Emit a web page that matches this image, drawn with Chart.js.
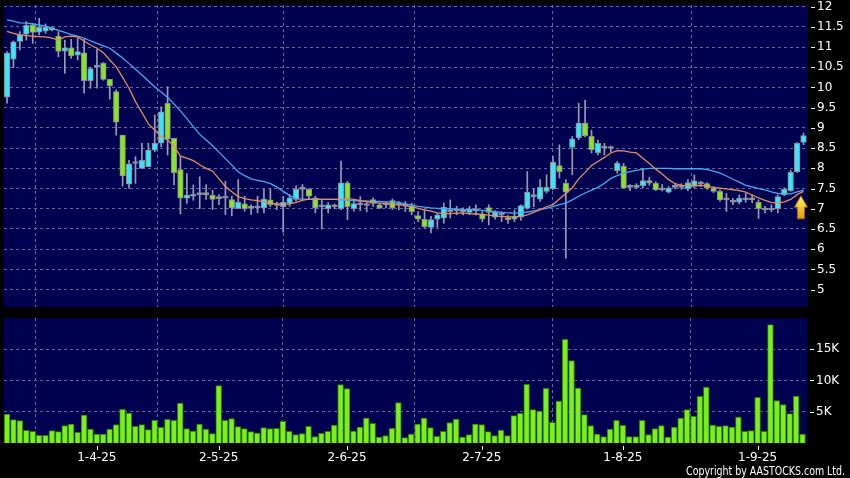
<!DOCTYPE html>
<html>
<head>
<meta charset="utf-8">
<script src="https://cdn.jsdelivr.net/npm/chart.js@4.4.1/dist/chart.umd.min.js"></script>
<style>
  html, body { margin: 0; padding: 0; background: #000; }
  #wrap { position: relative; width: 850px; height: 478px; overflow: hidden; background: #000; }
  #main { position: absolute; left: 0; top: 0; }
  #vol { position: absolute; left: 0; top: 307px; }
  #copy { position: absolute; right: 5px; top: 464px; color: #fff; font: 12px "DejaVu Sans", sans-serif;
          white-space: nowrap; transform-origin: right top; line-height: 14px; }
</style>
</head>
<body>
<div id="wrap">
  <canvas id="main" width="850" height="307"></canvas>
  <canvas id="vol" width="850" height="171"></canvas>
  <div id="copy">Copyright by AASTOCKS.com Ltd.</div>
</div>
<script>
// daily candles, 12 Mar 2025 .. 10 Sep 2025 (125 sessions)
const opens = [9.76,10.70,11.14,11.32,11.54,11.37,11.39,11.48,11.27,10.90,
  10.98,10.80,10.86,10.17,10.50,10.60,10.20,9.90,8.82,7.61,
  8.12,8.00,8.04,8.45,8.62,9.61,8.74,7.97,7.26,7.31,
  7.35,7.35,7.33,7.25,7.26,7.23,7.00,7.12,7.01,7.02,
  7.02,7.22,7.08,7.05,7.13,7.23,7.48,7.48,7.27,7.05,
  7.00,7.07,7.00,7.64,7.00,7.10,7.08,7.23,7.10,7.10,
  7.20,7.09,7.11,7.07,6.83,6.74,6.54,6.74,6.77,6.93,
  7.00,6.93,6.91,6.95,6.87,7.03,6.79,6.85,6.77,6.74,
  6.79,7.01,7.30,7.24,7.43,7.49,8.07,7.63,8.52,8.75,
  9.12,8.79,8.39,8.50,8.50,7.94,8.05,7.53,7.53,7.57,
  7.70,7.63,7.47,7.41,7.53,7.53,7.49,7.55,7.61,7.62,
  7.51,7.43,7.22,7.16,7.16,7.22,7.26,7.16,6.97,6.97,
  7.00,7.34,7.45,7.92,8.64];
const highs = [10.89,11.15,11.38,11.63,11.59,11.71,11.57,11.50,11.38,11.17,
  11.19,11.22,11.19,10.50,10.94,10.62,10.20,9.94,8.82,8.20,
  8.29,8.62,8.62,9.32,9.52,10.02,8.74,8.29,7.87,7.59,
  7.79,7.60,7.46,7.35,7.68,7.31,7.72,7.31,7.10,7.31,
  7.48,7.50,7.16,7.31,7.35,7.57,7.60,7.50,7.31,7.23,
  7.15,7.12,8.18,7.68,7.23,7.30,7.18,7.27,7.14,7.15,
  7.24,7.18,7.18,7.14,6.93,6.97,6.81,6.89,7.14,7.22,
  7.06,7.02,7.06,7.10,6.93,7.10,6.95,6.93,6.83,6.97,
  7.10,7.92,7.50,7.72,7.84,8.29,8.58,7.72,8.79,9.61,
  9.69,8.94,8.70,8.62,8.55,8.17,8.12,7.60,7.62,8.00,
  7.78,7.67,7.60,7.55,7.60,7.62,7.72,7.84,7.68,7.65,
  7.55,7.47,7.38,7.26,7.34,7.38,7.35,7.22,7.06,7.10,
  7.34,7.52,7.95,8.64,8.87];
const lows = [9.61,10.49,10.93,11.17,11.09,11.30,11.34,11.40,10.76,10.35,
  10.72,10.68,9.86,9.98,9.98,10.18,9.71,8.82,7.56,7.50,
  7.63,8.00,8.04,8.41,8.53,8.33,7.59,6.87,7.13,7.21,
  7.00,7.23,6.98,7.10,6.86,6.82,7.00,6.94,6.86,6.90,
  6.90,7.05,6.98,6.42,7.06,7.19,7.23,7.23,6.90,6.50,
  6.90,7.00,6.98,6.73,6.94,6.95,6.92,7.06,7.00,7.02,
  6.98,6.97,6.93,6.85,6.68,6.52,6.40,6.54,6.64,6.77,
  6.85,6.85,6.85,6.85,6.68,6.60,6.74,6.68,6.64,6.68,
  6.71,6.99,7.05,7.18,7.39,7.47,7.76,5.78,7.84,8.71,
  8.78,8.38,8.33,8.33,8.40,7.88,7.51,7.45,7.50,7.52,
  7.58,7.45,7.44,7.39,7.49,7.48,7.45,7.52,7.55,7.48,
  7.40,7.18,6.93,7.10,7.12,7.16,7.15,6.76,6.90,6.92,
  6.90,7.32,7.43,7.90,8.58];
const closes = [10.85,11.13,11.31,11.54,11.36,11.49,11.49,11.42,10.89,10.98,
  10.78,10.89,10.17,10.47,10.52,10.20,10.04,9.14,7.81,8.11,
  8.13,8.20,8.45,8.62,9.40,8.72,7.89,7.26,7.34,7.35,
  7.35,7.36,7.23,7.26,7.27,7.02,7.16,7.00,7.02,7.03,
  7.24,7.10,7.09,7.16,7.27,7.48,7.49,7.31,7.02,7.06,
  7.10,7.05,7.64,7.05,7.13,7.11,7.09,7.13,7.02,7.11,
  7.02,7.09,7.07,6.93,6.74,6.56,6.73,6.85,7.04,6.93,
  6.95,6.93,7.00,6.95,6.74,6.91,6.92,6.85,6.73,6.81,
  7.08,7.41,7.30,7.53,7.53,8.15,7.92,7.41,8.73,9.12,
  8.81,8.46,8.62,8.50,8.49,8.13,7.51,7.53,7.57,7.70,
  7.63,7.47,7.47,7.51,7.53,7.53,7.65,7.69,7.61,7.51,
  7.43,7.22,7.22,7.16,7.26,7.22,7.22,7.00,6.97,6.97,
  7.30,7.48,7.90,8.62,8.81];
const volumes = [4630,3730,3570,2020,1860,1220,1220,1970,1810,2770,
  3040,1700,4470,2240,1440,1440,2240,2930,5380,4790,
  2660,2930,2130,3620,2500,3780,3620,6390,2290,1920,
  3040,2240,1490,9160,3620,3890,2610,2290,1810,1600,
  2450,2290,2340,3460,1860,1330,1490,2660,1010,1540,
  1860,2880,9320,8680,1920,2560,3990,3140,960,1170,
  2340,6440,850,1440,3040,3990,2450,1060,1860,3250,
  3830,960,1330,3040,2930,1810,1170,2080,1170,4370,
  4740,9370,5320,5110,8730,3300,6710,16560,13150,8790,
  4530,2800,1440,1010,2240,3620,2820,1010,1010,3620,
  1330,2290,2770,960,2560,3990,5320,4260,7450,8950,
  2880,2660,2770,2560,4150,1860,1970,7300,1860,18900,
  6760,6120,4690,7510,1440];
// short (orange) and long (blue) moving averages as drawn on the chart
const maShort = [11.39,11.34,11.30,11.28,11.27,11.26,11.25,11.22,11.17,11.25,
  11.27,11.25,11.15,11.05,10.97,10.86,10.68,10.51,10.25,9.98,
  9.65,9.38,9.10,8.95,8.78,8.70,8.55,8.30,8.25,8.19,
  8.09,8.00,7.93,7.74,7.55,7.42,7.30,7.25,7.22,7.20,
  7.17,7.14,7.12,7.10,7.12,7.16,7.21,7.24,7.24,7.23,
  7.23,7.23,7.24,7.25,7.23,7.20,7.18,7.16,7.14,7.13,
  7.11,7.10,7.08,7.05,7.01,6.97,6.94,6.90,6.88,6.88,
  6.89,6.89,6.88,6.87,6.86,6.84,6.82,6.81,6.80,6.80,
  6.81,6.85,6.91,6.98,7.05,7.10,7.24,7.38,7.52,7.74,
  7.90,8.07,8.17,8.27,8.38,8.44,8.43,8.40,8.38,8.25,
  8.12,7.98,7.86,7.72,7.62,7.58,7.57,7.57,7.58,7.56,
  7.53,7.51,7.49,7.47,7.45,7.41,7.34,7.27,7.21,7.16,
  7.14,7.17,7.23,7.35,7.43];
const maLong = [11.67,11.64,11.60,11.59,11.57,11.55,11.52,11.47,11.41,11.36,
  11.31,11.27,11.22,11.15,11.09,11.03,10.97,10.85,10.73,10.59,
  10.45,10.31,10.16,10.01,9.89,9.75,9.59,9.42,9.23,9.03,
  8.84,8.70,8.56,8.40,8.24,8.08,7.91,7.82,7.74,7.70,
  7.67,7.62,7.54,7.43,7.33,7.25,7.24,7.23,7.23,7.23,
  7.23,7.23,7.22,7.21,7.20,7.19,7.19,7.18,7.18,7.17,
  7.17,7.16,7.12,7.09,7.06,7.04,7.02,7.01,7.00,7.00,
  6.99,6.98,6.97,6.97,6.96,6.94,6.93,6.91,6.90,6.89,
  6.90,6.92,6.95,6.98,7.01,7.05,7.10,7.14,7.22,7.31,
  7.39,7.46,7.53,7.63,7.75,7.82,7.88,7.92,7.95,7.98,
  8.00,8.00,8.00,8.00,7.99,7.99,7.99,7.99,7.99,7.97,
  7.93,7.88,7.81,7.73,7.66,7.58,7.54,7.50,7.47,7.42,
  7.38,7.37,7.37,7.42,7.46];

const tickIdx = [14, 33, 53, 74, 96, 117];
const tickLabels = ['1-4-25', '2-5-25', '2-6-25', '2-7-25', '1-8-25', '1-9-25'];
const priceTicks = [5, 5.5, 6, 6.5, 7, 7.5, 8, 8.5, 9, 9.5, 10, 10.5, 11, 11.5, 12];
const volTicks = [5000, 10000, 15000];
const volTickLabels = ['5K', '10K', '15K'];

// the yellow arrow marker next to the last candle
const arrowAt = { x: 123.6, tip: 7.32, neck: 7.04, foot: 6.75 };

const NAVY = '#000050';
const GRID = '#66669c';
const UP = '#3ae6f4';
const DOWN = '#88e424';
const FLAT = '#a2a2b2';
const EDGE = '#8c8c9c';
const FONT = { family: 'DejaVu Sans', size: 12 };

const idx = opens.map((_, i) => i);

function candleColour(i) {
  const d = closes[i] - opens[i];
  if (Math.abs(d) < 0.015) return FLAT;
  return d > 0 ? UP : DOWN;
}

// navy fill behind the plot area
const plotBg = {
  id: 'plotBg',
  beforeDraw(chart) {
    const a = chart.chartArea, ctx = chart.ctx;
    ctx.save();
    ctx.fillStyle = NAVY;
    ctx.fillRect(a.left, a.top, a.right - a.left, a.bottom - a.top);
    ctx.restore();
  }
};

// little white dashes in front of the right axis labels
const yMarks = {
  id: 'yMarks',
  afterDraw(chart) {
    const s = chart.scales.y, ctx = chart.ctx;
    ctx.save();
    ctx.strokeStyle = '#fff';
    ctx.lineWidth = 1;
    ctx.beginPath();
    s.ticks.forEach(t => {
      const y = Math.round(s.getPixelForValue(t.value)) + 0.5;
      ctx.moveTo(chart.chartArea.right + 3, y);
      ctx.lineTo(chart.chartArea.right + 7, y);
    });
    ctx.stroke();
    ctx.restore();
  }
};

// small tick marks under the volume panel
const xMarks = {
  id: 'xMarks',
  afterDraw(chart) {
    const s = chart.scales.x, ctx = chart.ctx, b = chart.chartArea.bottom;
    ctx.save();
    ctx.strokeStyle = '#fff';
    ctx.lineWidth = 1;
    ctx.beginPath();
    s.ticks.forEach(t => {
      const x = Math.round(s.getPixelForValue(t.value)) + 0.5;
      ctx.moveTo(x, b + 3);
      ctx.lineTo(x, b + 7);
    });
    ctx.stroke();
    ctx.restore();
  }
};

const arrow = {
  id: 'arrow',
  afterDatasetsDraw(chart) {
    const xs = chart.scales.x, ys = chart.scales.y, ctx = chart.ctx;
    const cx = xs.getPixelForValue(arrowAt.x);
    const yt = ys.getPixelForValue(arrowAt.tip);
    const yn = ys.getPixelForValue(arrowAt.neck);
    const yf = ys.getPixelForValue(arrowAt.foot);
    const hw = 6.5, sw = 3.5;
    const g = ctx.createLinearGradient(0, yt, 0, yf);
    g.addColorStop(0, '#fff46a');
    g.addColorStop(1, '#e29a00');
    ctx.save();
    ctx.beginPath();
    ctx.moveTo(cx, yt);
    ctx.lineTo(cx + hw, yn);
    ctx.lineTo(cx + sw, yn);
    ctx.lineTo(cx + sw, yf);
    ctx.lineTo(cx - sw, yf);
    ctx.lineTo(cx - sw, yn);
    ctx.lineTo(cx - hw, yn);
    ctx.closePath();
    ctx.fillStyle = g;
    ctx.fill();
    ctx.strokeStyle = '#a86a00';
    ctx.lineWidth = 0.8;
    ctx.stroke();
    ctx.restore();
  }
};

function xAxis(showLabels) {
  return {
    type: 'linear',
    min: -0.47,
    max: 124.7,
    offset: false,
    afterBuildTicks: s => { s.ticks = tickIdx.map(v => ({ value: v })); },
    afterFit: s => {
      s.height = showLabels ? 35 : 0;
      s.paddingLeft = 0;
      s.paddingRight = 0;
    },
    grid: { color: GRID, drawTicks: false, lineWidth: 1 },
    border: { display: false, dash: [3, 3] },
    ticks: {
      display: showLabels,
      color: '#fff',
      font: FONT,
      padding: 8,
      maxRotation: 0,
      autoSkip: false,
      callback: (v, i) => tickLabels[i]
    }
  };
}

function yAxis(min, max, ticks, labels, width) {
  return {
    position: 'right',
    min: min,
    max: max,
    afterBuildTicks: s => { s.ticks = ticks.map(v => ({ value: v })); },
    afterFit: s => {
      s.width = width;
      s.paddingTop = 0;
      s.paddingBottom = 0;
    },
    grid: { color: GRID, drawTicks: false },
    border: { display: false, dash: [3, 3] },
    ticks: { color: '#fff', font: FONT, padding: 9, callback: (v, i) => labels[i] }
  };
}

const common = {
  responsive: false,
  animation: false,
  events: [],
  plugins: { legend: { display: false }, tooltip: { enabled: false } }
};

new Chart(document.getElementById('main'), {
  type: 'bar',
  data: {
    datasets: [
      {
        type: 'line',
        data: maShort.map((v, i) => ({ x: i, y: v })),
        borderColor: '#e48e5c',
        borderWidth: 1.3,
        pointRadius: 0,
        tension: 0,
        order: 0
      },
      {
        type: 'line',
        data: maLong.map((v, i) => ({ x: i, y: v })),
        borderColor: '#44aaf0',
        borderWidth: 1.3,
        pointRadius: 0,
        tension: 0,
        order: 0
      },
      {
        data: idx.map(i => ({ x: i, y: [opens[i], closes[i]] })),
        backgroundColor: idx.map(candleColour),
        borderColor: EDGE,
        borderWidth: 1,
        borderSkipped: false,
        barThickness: 5.6,
        minBarLength: 2,
        grouped: false,
        order: 1
      },
      {
        data: idx.map(i => ({ x: i, y: [lows[i], highs[i]] })),
        backgroundColor: '#9c9cae',
        borderWidth: 0,
        barThickness: 1,
        grouped: false,
        order: 2
      }
    ]
  },
  options: Object.assign({}, common, {
    layout: { padding: { top: 5, left: 4, right: 0, bottom: 0 } },
    scales: {
      x: xAxis(false),
      y: yAxis(4.57, 12.04, priceTicks, priceTicks.map(String), 42)
    }
  }),
  plugins: [plotBg, yMarks, arrow]
});

new Chart(document.getElementById('vol'), {
  type: 'bar',
  data: {
    datasets: [{
      data: idx.map(i => ({ x: i, y: volumes[i] })),
      backgroundColor: '#7cf01c',
      borderColor: '#2f7a00',
      borderWidth: 1,
      barThickness: 5.8,
      grouped: false
    }]
  },
  options: Object.assign({}, common, {
    layout: { padding: { top: 11, left: 4, right: 0, bottom: 0 } },
    scales: {
      x: xAxis(true),
      y: yAxis(0, 19970, volTicks, volTickLabels, 43)
    }
  }),
  plugins: [plotBg, yMarks, xMarks]
});

// squeeze the copyright line to the width it has in the original
const copy = document.getElementById('copy');
const w = copy.getBoundingClientRect().width;
copy.style.transform = 'scaleX(' + (159 / w).toFixed(3) + ')';
</script>
</body>
</html>
